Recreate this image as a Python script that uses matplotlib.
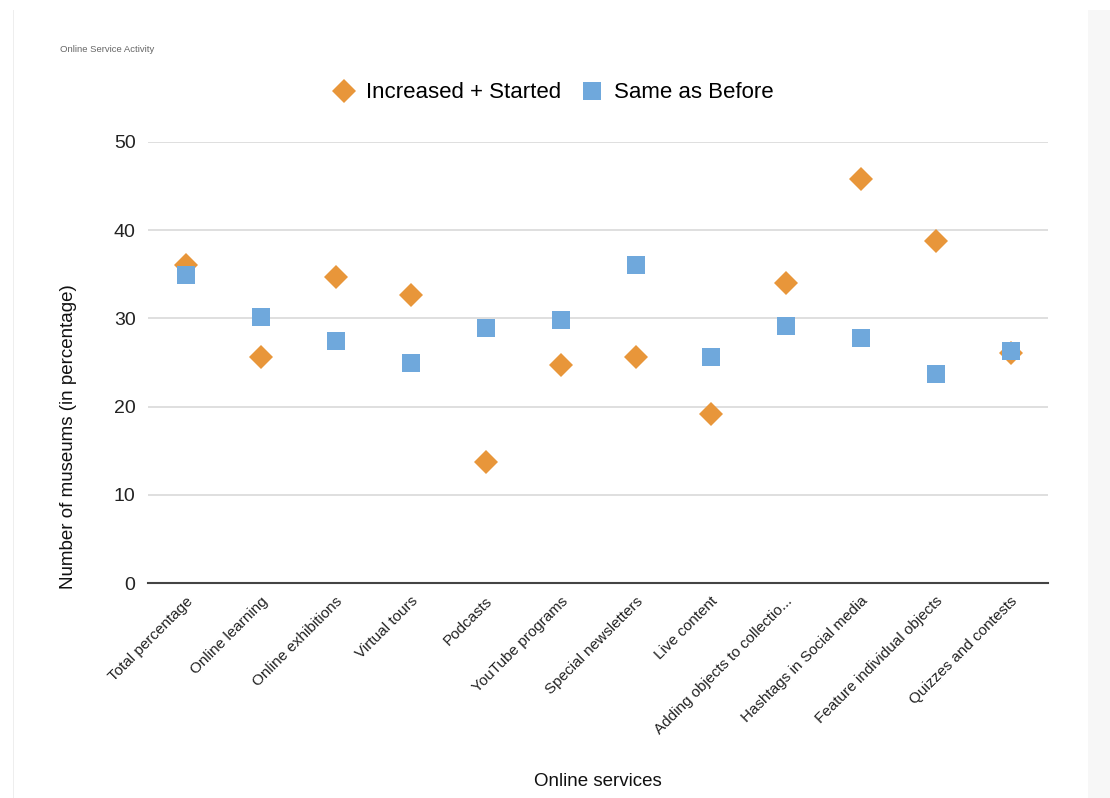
import matplotlib.pyplot as plt
from matplotlib.patches import Rectangle

plt.rcParams["font.family"] = ["Liberation Sans", "DejaVu Sans"]

# datos
servicios = ["Total percentage", "Online learning", "Online exhibitions", "Virtual tours",
             "Podcasts", "YouTube programs", "Special newsletters", "Live content",
             "Adding objects to collectio...", "Hashtags in Social media",
             "Feature individual objects", "Quizzes and contests"]
aumentado = [36.1, 25.6, 34.7, 32.7, 13.7, 24.7, 25.6, 19.2, 34.0, 45.8, 38.8, 26.1]
igual = [34.9, 30.2, 27.4, 24.9, 28.9, 29.8, 36.1, 25.6, 29.1, 27.8, 23.7, 26.3]
y_ticks = [0, 10, 20, 30, 40, 50]

naranja = "#E8963A"
azul = "#6FA8DC"

fig = plt.figure(figsize=(11.1, 7.98), dpi=100)
W, H = 1110, 798
ax = fig.add_axes([148 / W, 1 - 583 / H, 900 / W, 441 / H])

# franja gris a la derecha y borde izquierdo
fig.patches.append(Rectangle((1088 / W, 0), 22 / W, 1 - 10 / H, transform=fig.transFigure,
                             facecolor="#f7f7f7", edgecolor="none", zorder=0))
fig.patches.append(Rectangle((13 / W, 0), 1 / W, 1 - 10 / H, transform=fig.transFigure,
                             facecolor="#eeeeee", edgecolor="none", zorder=0))

x = list(range(len(servicios)))
ax.plot(x, aumentado, linestyle="none", marker="D", markersize=12.3, color=naranja,
        markeredgewidth=0, label="Increased + Started", zorder=3)
ax.plot(x, igual, linestyle="none", marker="s", markersize=13.3, color=azul,
        markeredgewidth=0, label="Same as Before", zorder=4)

ax.set_xlim(-0.5, len(servicios) - 0.5)
ax.set_ylim(0, 50)
ax.set_yticks(y_ticks)
ax.set_yticklabels([str(v) for v in y_ticks], fontsize=14, color="#222222")
ax.grid(axis="y", color="#d9d9d9", linewidth=1.2)
ax.set_axisbelow(True)
for s in ["top", "right", "left"]:
    ax.spines[s].set_visible(False)
ax.spines["bottom"].set_color("#444444")
ax.spines["bottom"].set_linewidth(1.5)
ax.spines["bottom"].set_zorder(2)
ax.tick_params(axis="both", length=0)
ax.tick_params(axis="y", pad=9)

ax.set_xticks(x)
ax.set_xticklabels(servicios, rotation=45, ha="right", rotation_mode="anchor",
                   fontsize=11, color="#222222")
ax.tick_params(axis="x", pad=8)

fig.text(598 / W, 1 - 781 / H, "Online services", ha="center", va="center",
         fontsize=13.5, color="#111111")
fig.text(69 / W, 1 - 437 / H, "Number of museums (in percentage)", ha="center",
         va="center", rotation=90, fontsize=13.5, color="#111111")
fig.text(60 / W, 1 - 49 / H, "Online Service Activity", ha="left", va="center",
         fontsize=6.8, color="#666666")

fig.legend(loc="center", bbox_to_anchor=(552 / W, 1 - 93 / H), ncol=2, frameon=False,
           fontsize=16, handletextpad=0.4, columnspacing=0.8, handlelength=1.2)

fig.savefig("out.png", dpi=100, facecolor="white")
